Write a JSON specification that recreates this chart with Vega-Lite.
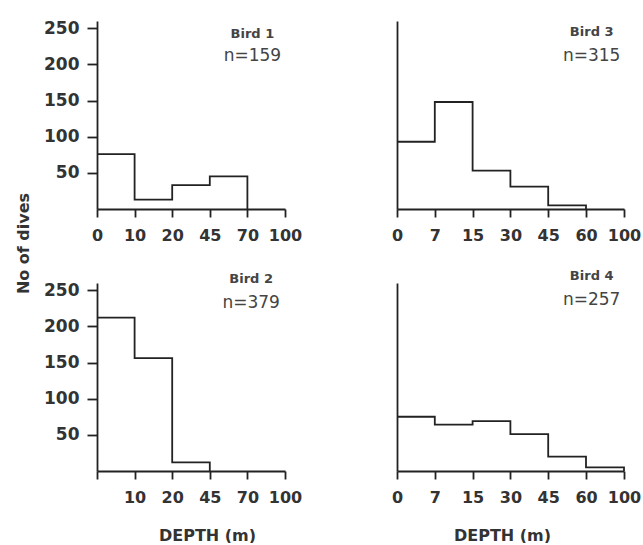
{
  "$schema": "https://vega.github.io/schema/vega-lite/v6.json",
  "padding": {"left": 15, "top": 19, "right": 3, "bottom": 0},
  "background": "white",
  "data": {"values": [
    {"bird": "Bird 1", "depth": 0, "dives": 76},
    {"bird": "Bird 1", "depth": 10, "dives": 13},
    {"bird": "Bird 1", "depth": 20, "dives": 33},
    {"bird": "Bird 1", "depth": 45, "dives": 45},
    {"bird": "Bird 1", "depth": 70, "dives": 0},
    {"bird": "Bird 2", "depth": 0, "dives": 212},
    {"bird": "Bird 2", "depth": 10, "dives": 156},
    {"bird": "Bird 2", "depth": 20, "dives": 12},
    {"bird": "Bird 2", "depth": 45, "dives": 0},
    {"bird": "Bird 3", "depth": 0, "dives": 93},
    {"bird": "Bird 3", "depth": 7, "dives": 148},
    {"bird": "Bird 3", "depth": 15, "dives": 53},
    {"bird": "Bird 3", "depth": 30, "dives": 31},
    {"bird": "Bird 3", "depth": 45, "dives": 5},
    {"bird": "Bird 3", "depth": 60, "dives": 0},
    {"bird": "Bird 4", "depth": 0, "dives": 75},
    {"bird": "Bird 4", "depth": 7, "dives": 64},
    {"bird": "Bird 4", "depth": 15, "dives": 69},
    {"bird": "Bird 4", "depth": 30, "dives": 51},
    {"bird": "Bird 4", "depth": 45, "dives": 20},
    {"bird": "Bird 4", "depth": 60, "dives": 5},
    {"bird": "Bird 4", "depth": 100, "dives": 0}
  ]},
  "columns": 2,
  "bounds": "flush",
  "spacing": {"row": 74, "column": 112},
  "concat": [
    {
      "width": 188, "height": 188,
      "transform": [{"filter": "datum.bird === 'Bird 1'"}],
      "layer": [
        {
          "mark": {"type": "line", "interpolate": "step-after", "color": "#222", "strokeWidth": 1.8, "clip": false},
          "encoding": {
            "x": {"field": "depth", "type": "quantitative",
              "scale": {"domain": [0, 10, 20, 45, 70, 100], "range": [0, 37.6, 75.2, 112.8, 150.4, 188]},
              "axis": {"values": [0, 10, 20, 45, 70, 100], "tickCount": 20, "title": null, "tickSize": 8, "labelPadding": 10, "labelFontSize": 16, "labelFlush": false, "labelOverlap": false}},
            "y": {"field": "dives", "type": "quantitative", "scale": {"domain": [0, 250]},
              "axis": {"values": [50, 100, 150, 200, 250], "tickCount": 20, "title": "No of dives", "titleY": 222, "titlePadding": 12, "tickSize": 10, "labelPadding": 8, "labelOverlap": false}}
          }
        },
        {"data": {"values": [{}]}, "mark": {"type": "text", "text": "Bird 1", "font": "DejaVu Sans", "fontWeight": "bold", "fontSize": 13, "color": "#444"},
          "encoding": {"x": {"datum": 74}, "y": {"datum": 242}}},
        {"data": {"values": [{}]}, "mark": {"type": "text", "text": "n=159", "font": "DejaVu Sans", "fontSize": 17, "color": "#444"},
          "encoding": {"x": {"datum": 74}, "y": {"datum": 211}}}
      ]
    },
    {
      "width": 227, "height": 188,
      "transform": [{"filter": "datum.bird === 'Bird 3'"}],
      "layer": [
        {
          "mark": {"type": "line", "interpolate": "step-after", "color": "#222", "strokeWidth": 1.8, "clip": false},
          "encoding": {
            "x": {"field": "depth", "type": "quantitative",
              "scale": {"domain": [0, 7, 15, 30, 45, 60, 100], "range": [0, 37.8, 75.6, 113.4, 151.2, 189, 227]},
              "axis": {"values": [0, 7, 15, 30, 45, 60, 100], "tickCount": 20, "title": null, "tickSize": 8, "labelPadding": 10, "labelFontSize": 16, "labelFlush": false, "labelOverlap": false}},
            "y": {"field": "dives", "type": "quantitative", "scale": {"domain": [0, 250]},
              "axis": {"title": null, "labels": false, "ticks": false}}
          }
        },
        {"data": {"values": [{}]}, "mark": {"type": "text", "text": "Bird 3", "font": "DejaVu Sans", "fontWeight": "bold", "fontSize": 13, "color": "#444"},
          "encoding": {"x": {"datum": 66}, "y": {"datum": 245}}},
        {"data": {"values": [{}]}, "mark": {"type": "text", "text": "n=315", "font": "DejaVu Sans", "fontSize": 17, "color": "#444"},
          "encoding": {"x": {"datum": 66}, "y": {"datum": 212}}}
      ]
    },
    {
      "width": 188, "height": 188,
      "transform": [{"filter": "datum.bird === 'Bird 2'"}],
      "layer": [
        {
          "mark": {"type": "line", "interpolate": "step-after", "color": "#222", "strokeWidth": 1.8, "clip": false},
          "encoding": {
            "x": {"field": "depth", "type": "quantitative",
              "scale": {"domain": [0, 10, 20, 45, 70, 100], "range": [0, 37.6, 75.2, 112.8, 150.4, 188]},
              "axis": {"values": [0, 10, 20, 45, 70, 100], "tickCount": 20, "labelExpr": "datum.value === 0 ? '' : datum.label", "title": "DEPTH (m)", "titleX": 110, "titlePadding": 22, "tickSize": 8, "labelPadding": 10, "labelFontSize": 16, "labelFlush": false, "labelOverlap": false}},
            "y": {"field": "dives", "type": "quantitative", "scale": {"domain": [0, 250]},
              "axis": {"values": [50, 100, 150, 200, 250], "tickCount": 20, "title": null, "tickSize": 10, "labelPadding": 8, "labelOverlap": false}}
          }
        },
        {"data": {"values": [{}]}, "mark": {"type": "text", "text": "Bird 2", "font": "DejaVu Sans", "fontWeight": "bold", "fontSize": 13, "color": "#444"},
          "encoding": {"x": {"datum": 73}, "y": {"datum": 265}}},
        {"data": {"values": [{}]}, "mark": {"type": "text", "text": "n=379", "font": "DejaVu Sans", "fontSize": 17, "color": "#444"},
          "encoding": {"x": {"datum": 73}, "y": {"datum": 233}}}
      ]
    },
    {
      "width": 227, "height": 188,
      "transform": [{"filter": "datum.bird === 'Bird 4'"}],
      "layer": [
        {
          "mark": {"type": "line", "interpolate": "step-after", "color": "#222", "strokeWidth": 1.8, "clip": false},
          "encoding": {
            "x": {"field": "depth", "type": "quantitative",
              "scale": {"domain": [0, 7, 15, 30, 45, 60, 100], "range": [0, 37.8, 75.6, 113.4, 151.2, 189, 227]},
              "axis": {"values": [0, 7, 15, 30, 45, 60, 100], "tickCount": 20, "title": "DEPTH (m)", "titleX": 105, "titlePadding": 22, "tickSize": 8, "labelPadding": 10, "labelFontSize": 16, "labelFlush": false, "labelOverlap": false}},
            "y": {"field": "dives", "type": "quantitative", "scale": {"domain": [0, 250]},
              "axis": {"title": null, "labels": false, "ticks": false}}
          }
        },
        {"data": {"values": [{}]}, "mark": {"type": "text", "text": "Bird 4", "font": "DejaVu Sans", "fontWeight": "bold", "fontSize": 13, "color": "#444"},
          "encoding": {"x": {"datum": 66}, "y": {"datum": 270}}},
        {"data": {"values": [{}]}, "mark": {"type": "text", "text": "n=257", "font": "DejaVu Sans", "fontSize": 17, "color": "#444"},
          "encoding": {"x": {"datum": 66}, "y": {"datum": 237}}}
      ]
    }
  ],
  "config": {
    "view": {"stroke": null},
    "axis": {
      "grid": false,
      "domainColor": "#222", "domainWidth": 1.8,
      "tickColor": "#222", "tickWidth": 1.8,
      "labelFont": "DejaVu Sans", "labelFontWeight": "bold", "labelFontSize": 17, "labelColor": "#333",
      "titleFont": "DejaVu Sans", "titleFontWeight": "bold", "titleFontSize": 16, "titleColor": "#333"
    }
  }
}
